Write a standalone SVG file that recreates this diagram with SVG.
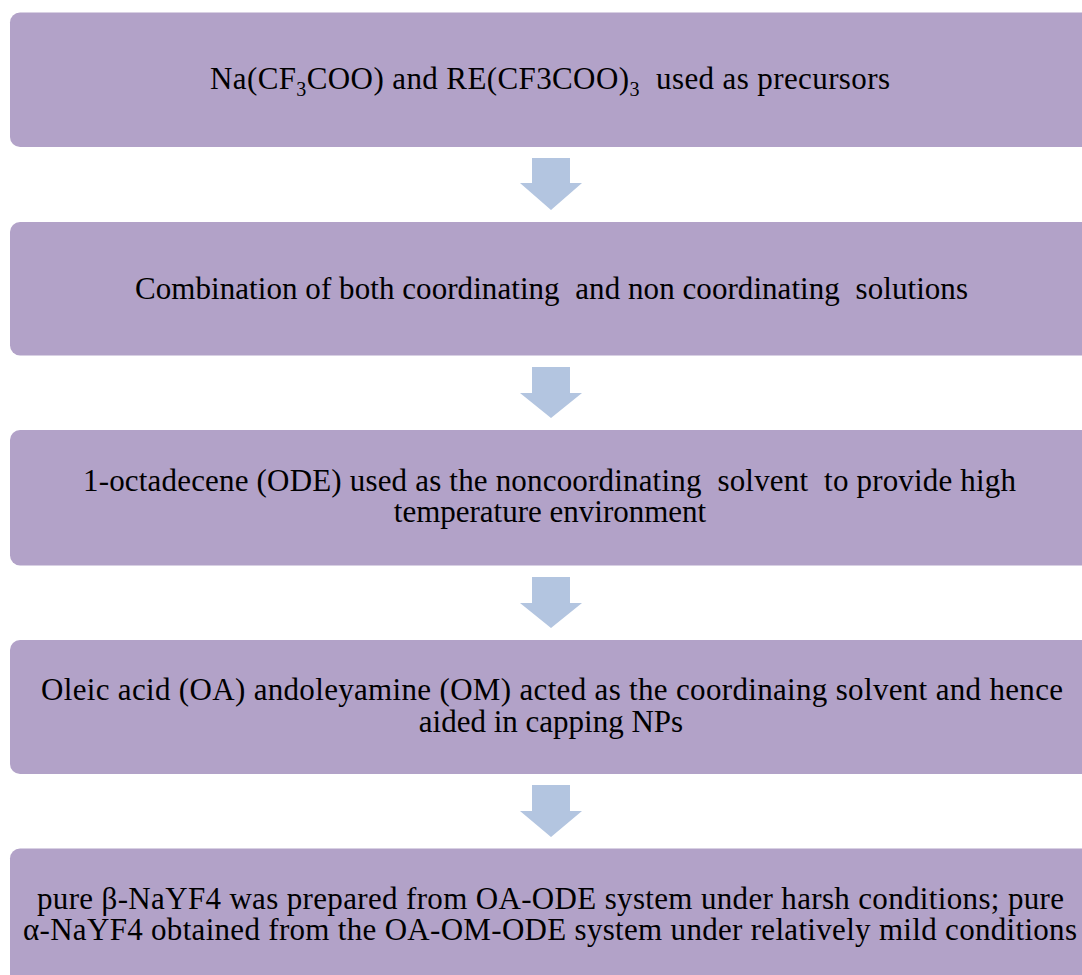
<svg xmlns="http://www.w3.org/2000/svg" width="1082" height="975" viewBox="0 0 1082 975">
<style>
.box{fill:#B2A2C8;}
.arr{fill:#B3C5E0;}
</style>
<rect width="1082" height="975" fill="#fff"/>
<g id="connectors">
<polygon class="arr" points="532,158 570,158 570,183 582,183 551,210 520,183 532,183"/>
<polygon class="arr" points="532,367 570,367 570,393 582,393 551,418 520,393 532,393"/>
<polygon class="arr" points="532,577 570,577 570,603 582,603 551,628 520,603 532,603"/>
<polygon class="arr" points="532,785 570,785 570,811 582,811 551,837 520,811 532,811"/>
</g>
<g font-family="Liberation Serif" font-size="31" fill="#000" text-anchor="middle">
<g id="n1">
<rect class="box" x="10" y="12.5" width="1090" height="134.5" rx="10"/>
<text x="550" y="89" xml:space="preserve" textLength="680" lengthAdjust="spacing">Na(CF<tspan font-size="20" dy="7">3</tspan><tspan dy="-7">COO) and RE(CF3COO)</tspan><tspan font-size="20" dy="7">3</tspan><tspan dy="-7">  used as precursors</tspan></text>
</g>
<g id="n2">
<rect class="box" x="10" y="222" width="1090" height="133.5" rx="10"/>
<text x="551.5" y="299" xml:space="preserve" textLength="833" lengthAdjust="spacing">Combination of both coordinating  and non coordinating  solutions</text>
</g>
<g id="n3">
<rect class="box" x="10" y="430" width="1090" height="135.5" rx="10"/>
<text x="549.5" y="491" xml:space="preserve" textLength="933" lengthAdjust="spacing">1-octadecene (ODE) used as the noncoordinating  solvent  to provide high</text>
<text x="550" y="522">temperature environment</text>
</g>
<g id="n4">
<rect class="box" x="10" y="640" width="1090" height="134" rx="10"/>
<text x="552" y="700" textLength="1022" lengthAdjust="spacing">Oleic acid (OA) andoleyamine (OM) acted as the coordinaing solvent and hence</text>
<text x="551" y="732">aided in capping NPs</text>
</g>
<g id="n5">
<rect class="box" x="10" y="848.5" width="1090" height="140" rx="10"/>
<text x="550.5" y="909" textLength="1027" lengthAdjust="spacing">pure β-NaYF4 was prepared from OA-ODE system under harsh conditions; pure</text>
<text x="550" y="940" textLength="1054" lengthAdjust="spacing">α-NaYF4 obtained from the OA-OM-ODE system under relatively mild conditions</text>
</g>
</g>
</svg>
